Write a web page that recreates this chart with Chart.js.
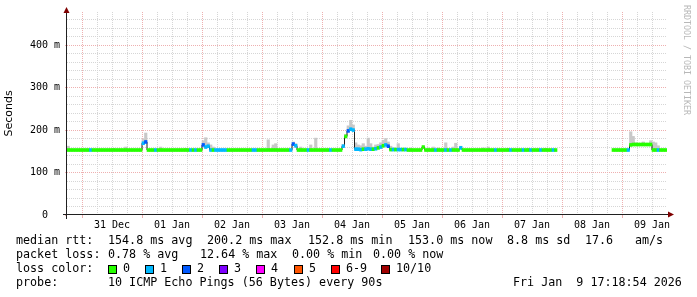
<!DOCTYPE html>
<html>
<head>
<meta charset="utf-8">
<script src="https://cdn.jsdelivr.net/npm/chart.js@4.4.1/dist/chart.umd.min.js"></script>
<style>
  html, body { margin: 0; padding: 0; background: #fff; }
  canvas { display: block; }
</style>
</head>
<body>
<canvas id="chart" width="697" height="297"></canvas>
<script>
// one value per hour, hours counted from 31 Dec 00:00, first value is 30 Dec 18:00
const startHour = -6;
const dayLabels = ['31 Dec', '01 Jan', '02 Jan', '03 Jan', '04 Jan', '05 Jan', '06 Jan', '07 Jan', '08 Jan', '09 Jan'];
const yLabelSteps = [0, 100, 200, 300, 400];

// median rtt in ms
const median = [
  153,153,153,153,153,153,
  153,153,153,153,153,153,153,153,153,153,153,153,153,153,153,153,153,153,153,153,153,153,153,153,
  169,172,153,153,153,153,153,153,153,153,153,153,153,153,153,153,153,153,153,153,153,153,153,153,
  165,160,162,153,153,153,153,153,153,153,153,153,153,153,153,153,153,153,153,153,153,153,153,153,
  153,153,153,153,153,153,153,153,153,153,153,153,167,163,153,153,153,153,153,153,153,153,153,153,
  153,153,153,153,153,153,153,153,162,185,198,202,200,155,155,154,155,155,156,155,155,156,158,160,
  163,165,162,154,154,154,154,154,154,154,153,153,153,153,153,153,160,153,153,153,153,153,153,153,
  153,153,153,153,153,153,153,158,153,153,153,153,153,153,153,153,153,153,153,153,153,153,153,153,
  153,153,153,153,153,153,153,153,153,153,153,153,153,153,153,153,153,153,153,153,153,153,null,null,
  null,null,null,null,null,null,null,null,null,null,null,null,null,null,null,null,null,null,null,null,153,153,153,153,
  153,153,153,165,166,166,166,166,166,166,166,166,153,153,153,153,153,153
];

// lost pings out of 10 for each hour
const loss = [
  0,0,0,0,0,0,
  0,0,0,1,0,0,0,0,0,0,0,0,0,0,0,0,0,0,0,0,0,0,0,0,
  1,2,0,0,0,1,0,0,0,0,0,0,0,0,0,0,0,0,0,1,0,1,0,0,
  2,1,1,1,0,1,1,1,1,1,0,0,0,0,0,0,0,0,0,0,1,1,0,0,
  0,0,0,0,0,0,0,0,0,0,0,1,2,1,0,0,0,0,1,0,0,0,0,0,
  0,0,0,1,0,0,0,0,1,0,2,1,1,1,1,1,0,1,1,1,0,1,0,1,
  0,1,2,0,1,0,1,1,0,1,0,0,0,0,0,0,0,0,0,0,0,1,0,0,
  0,1,0,1,0,0,0,1,0,0,0,0,0,0,0,0,0,0,0,0,0,1,0,0,
  0,0,0,1,0,0,0,0,1,0,0,1,0,0,0,1,0,0,0,0,1,0,null,null,
  null,null,null,null,null,null,null,null,null,null,null,null,null,null,null,null,null,null,null,null,0,0,0,0,
  0,0,1,0,0,0,0,0,0,0,0,0,0,0,1,0,0,0
];

// slowest ping of each hour (smoke), null where it hides under the median line
const smokeMax = [
  162,null,null,null,null,null,
  null,null,null,null,null,null,null,null,null,null,null,null,157,null,null,null,null,160,null,null,null,null,null,null,
  178,193,null,null,null,null,null,160,null,null,null,null,null,null,null,null,null,157,null,null,null,null,null,null,
  175,182,170,165,160,null,null,null,null,null,null,null,null,null,null,null,null,null,null,null,null,null,null,null,
  null,null,177,null,165,168,null,null,null,null,null,null,172,168,null,160,null,null,null,165,null,181,null,null,
  null,null,null,null,null,null,null,null,166,190,210,223,212,170,165,163,168,162,181,168,160,165,166,170,
  176,180,172,162,158,null,168,null,null,null,null,158,null,null,null,null,162,null,158,null,160,null,158,null,
  null,170,null,null,160,169,null,162,null,null,null,null,null,null,null,null,158,null,160,null,null,null,null,null,
  null,null,157,null,null,null,null,null,null,null,157,null,null,null,null,null,null,157,null,null,null,null,null,null,
  null,null,null,null,null,null,null,null,null,null,null,null,null,null,null,null,null,null,null,null,null,null,null,null,
  null,null,null,196,185,170,null,null,172,null,null,175,172,170,163,null,null,null
];

const lossColors = ['#26ff00', '#00b8ff', '#0059ff', '#7e00ff', '#ff00ff', '#ff5500', '#ff0000', '#a00000'];
const lossLabels = ['0', '1', '2', '3', '4', '5', '6-9', '10/10'];

const lineHalf = 3.5; // half thickness of the coloured median band, in ms
const majorGrid = '#eeb0b0';
const minorGrid = '#d6d6d6';
const clear = 'rgba(0,0,0,0)';

const hours = median.map((_, i) => startHour + i + 0.5);

const smokeData = [];
const medianBars = [];
const medianColors = [];
hours.forEach((h, i) => {
  if (median[i] == null) return;
  medianBars.push({ x: h, y: [median[i] - lineHalf, median[i] + lineHalf] });
  medianColors.push(lossColors[loss[i]]);
  if (smokeMax[i] != null) smokeData.push({ x: h, y: [median[i], smokeMax[i]] });
});
const medianLine = hours.map((h, i) => ({ x: h, y: median[i] }));

const xTicks = [];
dayLabels.forEach((_, d) => {
  [0, 6, 12, 18].forEach(o => { if (24 * d + o < 233) xTicks.push(24 * d + o); });
});
const yTicks = [];
for (let v = 0; v <= 460; v += 20) yTicks.push(v);

const tickVal = c => (c && c.tick ? c.tick.value : null);
const isMidnight = c => { const v = tickVal(c); return v != null && v % 24 === 0; };
const isYMajor = c => yLabelSteps.includes(tickVal(c));

// axes, arrows, watermark and the smokeping legend block
const decorations = {
  id: 'decorations',
  afterDraw(chart) {
    const ctx = chart.ctx;
    const { left, right, bottom } = chart.chartArea;
    ctx.save();
    ctx.strokeStyle = '#202020';
    ctx.lineWidth = 1;
    ctx.beginPath();
    ctx.moveTo(left - 0.5, 9);
    ctx.lineTo(left - 0.5, bottom + 4);
    ctx.moveTo(left - 4, bottom - 0.5);
    ctx.lineTo(right + 3, bottom - 0.5);
    ctx.stroke();

    ctx.fillStyle = '#7f0000';
    ctx.beginPath();
    ctx.moveTo(left - 0.5, 7);
    ctx.lineTo(left - 3.5, 13);
    ctx.lineTo(left + 2.5, 13);
    ctx.closePath();
    ctx.fill();
    ctx.beginPath();
    ctx.moveTo(right + 7, bottom - 0.5);
    ctx.lineTo(right + 1, bottom - 3.5);
    ctx.lineTo(right + 1, bottom + 2.5);
    ctx.closePath();
    ctx.fill();

    ctx.save();
    ctx.translate(682, 5);
    ctx.rotate(Math.PI / 2);
    ctx.font = '8.3px "DejaVu Sans Mono"';
    ctx.fillStyle = '#b8b8b8';
    ctx.textBaseline = 'middle';
    ctx.fillText('RRDTOOL / TOBI OETIKER', 0, -4);
    ctx.restore();

    ctx.font = '11.7px "DejaVu Sans Mono"';
    ctx.fillStyle = '#000';
    ctx.textBaseline = 'middle';
    ctx.textAlign = 'left';
    const rows = [
      [241, [[16, 'median rtt:'], [108, '154.8 ms avg'], [207, '200.2 ms max'], [308, '152.8 ms min'],
             [408, '153.0 ms now'], [507, '8.8 ms sd'], [585, '17.6'], [635, 'am/s']]],
      [255, [[16, 'packet loss:'], [108, '0.78 % avg'], [200, '12.64 % max'], [292, '0.00 % min'], [373, '0.00 % now']]],
      [269, [[16, 'loss color:']]],
      [283, [[16, 'probe:'], [108, '10 ICMP Echo Pings (56 Bytes) every 90s'], [513, 'Fri Jan  9 17:18:54 2026']]]
    ];
    rows.forEach(([y, items]) => items.forEach(([x, t]) => ctx.fillText(t, x, y)));

    const boxX = [108, 145, 182, 219, 256, 294, 331, 381];
    lossLabels.forEach((lab, i) => {
      ctx.fillStyle = lossColors[i];
      ctx.fillRect(boxX[i], 265, 9, 9);
      ctx.strokeStyle = '#000';
      ctx.strokeRect(boxX[i] + 0.5, 265.5, 8, 8);
      ctx.fillStyle = '#000';
      ctx.fillText(lab, boxX[i] + 15, 269);
    });
    ctx.restore();
  }
};

Chart.defaults.font.family = '"DejaVu Sans Mono"';
Chart.defaults.color = '#000';

new Chart(document.getElementById('chart'), {
  data: {
    datasets: [
      {
        type: 'bar',
        data: smokeData,
        backgroundColor: '#c8c8c8',
        borderWidth: 0,
        barPercentage: 1,
        categoryPercentage: 1,
        grouped: false,
        order: 3
      },
      {
        type: 'line',
        data: medianLine,
        borderColor: '#202020',
        borderWidth: 1,
        stepped: 'middle',
        pointRadius: 0,
        spanGaps: false,
        order: 2
      },
      {
        type: 'bar',
        data: medianBars,
        backgroundColor: medianColors,
        borderWidth: 0,
        barPercentage: 1,
        categoryPercentage: 1,
        grouped: false,
        order: 1
      }
    ]
  },
  options: {
    responsive: false,
    animation: false,
    events: [],
    layout: { padding: { top: 12, right: 30, bottom: 0, left: 0 } },
    plugins: {
      legend: { display: false },
      tooltip: { enabled: false }
    },
    scales: {
      x: {
        type: 'linear',
        offset: false,
        min: startHour,
        max: startHour + median.length,
        afterBuildTicks: s => { s.ticks = xTicks.map(v => ({ value: v })); },
        afterFit: s => { s.height = 82; },
        border: { display: false, dash: [1, 1] },
        grid: {
          offset: false,
          color: c => isMidnight(c) ? majorGrid : minorGrid,
          tickColor: c => isMidnight(c) ? majorGrid : clear,
          tickLength: 3
        },
        ticks: {
          autoSkip: false,
          maxRotation: 0,
          padding: 1,
          font: { size: 10 },
          callback: v => v % 24 === 12 ? dayLabels[(v - 12) / 24] : ''
        }
      },
      y: {
        min: 0,
        max: 478,
        afterBuildTicks: s => { s.ticks = yTicks.map(v => ({ value: v })); },
        afterFit: s => { s.width = 67; },
        border: { display: false, dash: [1, 1] },
        grid: {
          color: c => tickVal(c) === 0 ? clear : (isYMajor(c) ? majorGrid : minorGrid),
          tickColor: c => isYMajor(c) ? majorGrid : clear,
          tickLength: 2
        },
        ticks: {
          autoSkip: false,
          padding: 5,
          font: { size: 10 },
          callback: v => yLabelSteps.includes(v) ? (v === 0 ? '0  ' : v + ' m') : ''
        },
        title: {
          display: true,
          text: 'Seconds',
          font: { family: '"DejaVu Sans"', size: 11 },
          padding: { top: 3, bottom: 0 }
        }
      }
    }
  },
  plugins: [decorations]
});
</script>
</body>
</html>
